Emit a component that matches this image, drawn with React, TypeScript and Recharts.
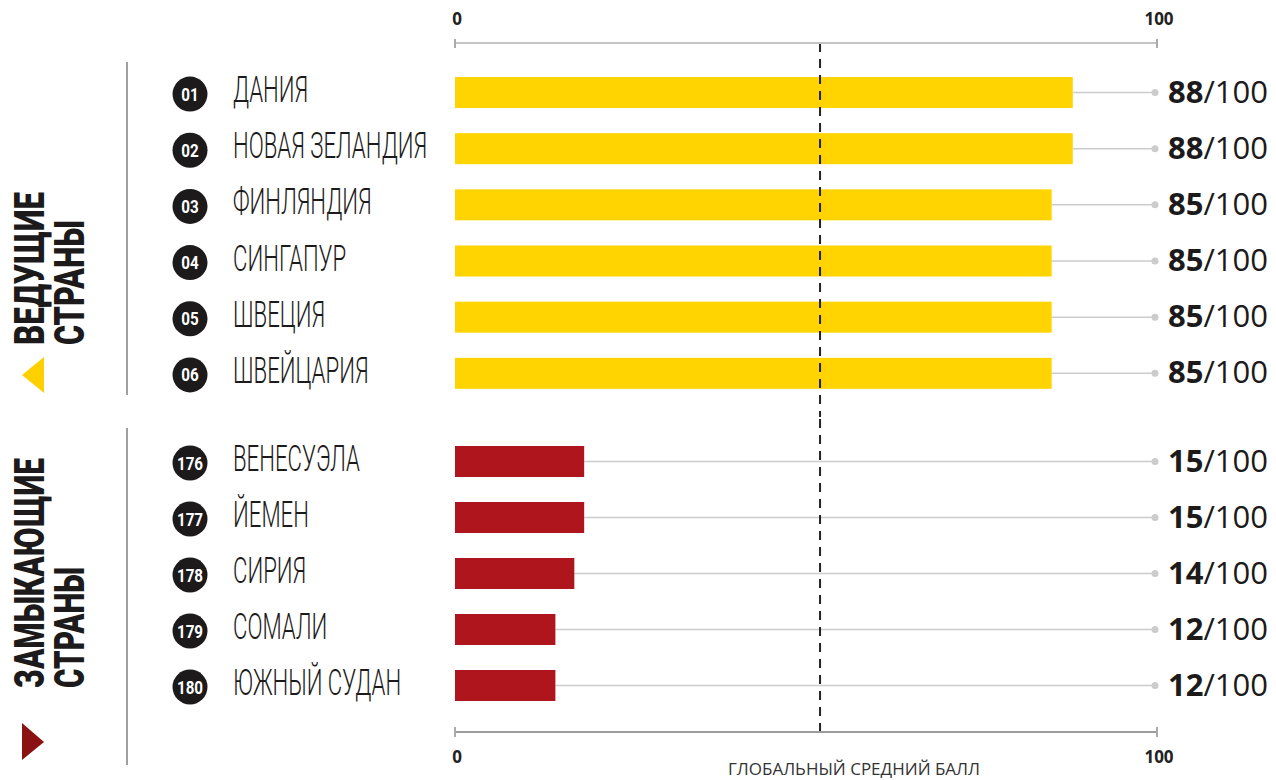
import { BarChart, Bar, XAxis, YAxis, ReferenceLine, LabelList } from 'recharts'

const leadNames = ['ДАНИЯ', 'НОВАЯ ЗЕЛАНДИЯ', 'ФИНЛЯНДИЯ', 'СИНГАПУР', 'ШВЕЦИЯ', 'ШВЕЙЦАРИЯ']
const leadRanks = ['01', '02', '03', '04', '05', '06']
const leadScores = [88, 88, 85, 85, 85, 85]

const lagNames = ['ВЕНЕСУЭЛА', 'ЙЕМЕН', 'СИРИЯ', 'СОМАЛИ', 'ЮЖНЫЙ СУДАН']
const lagRanks = ['176', '177', '178', '179', '180']
const lagScores = [15, 15, 14, 12, 12]
// bar lengths as drawn in the picture (they run longer than the printed score)
const lagBarLengths = [18.4, 18.4, 17, 14.3, 14.3]

const globalAverage = 52
const axisTicks = [0, 100]

const YELLOW = '#FFD400'
const RED = '#AF151D'
const INK = '#1c1a1a'
const LEADER = '#cccccc'
const PLOT_LEFT = 455
const PLOT_RIGHT = 1157
const CHART_W = 1276

type Row = { name: string; rank: string; score: number; bar: number }

const leadRows: Row[] = leadNames.map((name, i) => ({
  name,
  rank: leadRanks[i],
  score: leadScores[i],
  bar: leadScores[i],
}))

const lagRows: Row[] = lagNames.map((name, i) => ({
  name,
  rank: lagRanks[i],
  score: lagScores[i],
  bar: lagBarLengths[i],
}))

function BarWithLeader(props: any) {
  const { x, y, width, height, fill } = props
  const cy = y + height / 2
  return (
    <g>
      <line x1={x + width} x2={PLOT_RIGHT - 2} y1={cy} y2={cy} stroke={LEADER} strokeWidth={1.5} />
      <circle cx={PLOT_RIGHT - 2} cy={cy} r={3.5} fill={LEADER} />
      <rect x={x} y={y} width={width} height={height} fill={fill} />
    </g>
  )
}

function makeCountryTick(rows: Row[]) {
  return function CountryTick(props: any) {
    const { y, payload } = props
    const idx = props.index ?? payload.index
    const row = rows[idx]
    return (
      <g>
        <circle cx={190} cy={y + 2} r={17.5} fill={INK} />
        <text
          transform={`translate(190 ${y + 8.5}) scale(0.8 1)`}
          textAnchor='middle'
          fill='#fff'
          fontFamily='Roboto'
          fontWeight={700}
          fontSize={19}
        >
          {row ? row.rank : ''}
        </text>
        <text
          transform={`translate(233 ${y + 10}) scale(0.6 1)`}
          fill={INK}
          fontFamily='Roboto'
          fontWeight={300}
          fontSize={37}
        >
          {payload.value}
        </text>
      </g>
    )
  }
}

function makeAxisTick(lineY1: number, lineY2: number, labelY: number) {
  return function AxisTick(props: any) {
    const { x, payload } = props
    return (
      <g>
        <line x1={x} x2={x} y1={lineY1} y2={lineY2} stroke='#aaaaaa' strokeWidth={2} />
        <text x={x + 2} y={labelY} textAnchor='middle' fill='#222' fontFamily='Open Sans' fontWeight={700} fontSize={17}>
          {payload.value}
        </text>
      </g>
    )
  }
}

function ScoreLabel(props: any) {
  const { y, height, value } = props
  return (
    <text x={1168} y={y + height / 2 + 10} fill={INK} fontFamily='Open Sans' fontSize={31}>
      <tspan fontWeight={700}>{value}</tspan>
      <tspan fontWeight={400}>/100</tspan>
    </text>
  )
}

type SectionProps = {
  rows: Row[]
  color: string
  height: number
  top: number
  orientation: 'top' | 'bottom'
  axisHeight: number
  padTop: number
  padBottom: number
  axisColor: string
  tick: (p: any) => any
}

function Section({ rows, color, height, top, orientation, axisHeight, padTop, padBottom, axisColor, tick }: SectionProps) {
  return (
    <div style={{ position: 'absolute', left: 0, top }}>
      <BarChart
        layout='vertical'
        width={CHART_W}
        height={height}
        data={rows}
        margin={{ top: 0, right: CHART_W - PLOT_RIGHT, bottom: 0, left: 0 }}
      >
        <XAxis
          type='number'
          domain={[0, 100]}
          ticks={axisTicks}
          orientation={orientation}
          height={axisHeight}
          axisLine={{ stroke: axisColor, strokeWidth: 2 }}
          tickLine={false}
          tick={tick}
          interval={0}
        />
        <YAxis
          type='category'
          dataKey='name'
          width={PLOT_LEFT}
          axisLine={false}
          tickLine={false}
          padding={{ top: padTop, bottom: padBottom }}
          tick={makeCountryTick(rows)}
          interval={0}
        />
        <ReferenceLine x={globalAverage} stroke='#222' strokeWidth={2} strokeDasharray='9 7' />
        <Bar dataKey='bar' fill={color} barSize={31} shape={BarWithLeader} isAnimationActive={false}>
          <LabelList dataKey='score' content={ScoreLabel} />
        </Bar>
      </BarChart>
    </div>
  )
}

function SideLabel({ line1, line2, start, len1, len2 }: { line1: string; line2: string; start: number; len1: number; len2: number }) {
  return (
    <g fontFamily='Roboto' fontWeight={900} fontSize={42} fill={INK}>
      <text
        transform={`translate(44 ${start}) rotate(-90)`}
        textLength={len1}
        lengthAdjust='spacingAndGlyphs'
      >
        {line1}
      </text>
      <text
        transform={`translate(84 ${start}) rotate(-90)`}
        textLength={len2}
        lengthAdjust='spacingAndGlyphs'
      >
        {line2}
      </text>
    </g>
  )
}

export default function App() {
  return (
    <div style={{ position: 'absolute', left: 0, top: 0, width: CHART_W, height: 780, background: '#fff', fontFamily: 'Open Sans' }}>
      <Section
        rows={leadRows}
        color={YELLOW}
        height={417}
        top={0}
        orientation='top'
        axisHeight={43}
        padTop={21}
        padBottom={16}
        axisColor='#c4c4c4'
        tick={makeAxisTick(39, 48, 25)}
      />
      <Section
        rows={lagRows}
        color={RED}
        height={363}
        top={417}
        orientation='bottom'
        axisHeight={48}
        padTop={16}
        padBottom={19}
        axisColor='#9c9c9c'
        tick={makeAxisTick(310, 320, 346)}
      />
      <svg width={CHART_W} height={780} style={{ position: 'absolute', left: 0, top: 0, pointerEvents: 'none' }}>
        <line x1={127} x2={127} y1={62} y2={395} stroke='#a0a0a0' strokeWidth={2} />
        <line x1={127} x2={127} y1={428} y2={765} stroke='#a0a0a0' strokeWidth={2} />
        <SideLabel line1='ВЕДУЩИЕ' line2='СТРАНЫ' start={345} len1={153} len2={125} />
        <SideLabel line1='ЗАМЫКАЮЩИЕ' line2='СТРАНЫ' start={688} len1={230} len2={121} />
        <polygon points='22,375 44,357 44,393' fill='#FFD000' />
        <polygon points='44,742 22,723 22,760' fill='#8B1212' />
        <text x={728} y={775} fill='#333' fontFamily='Open Sans' fontSize={17}>
          ГЛОБАЛЬНЫЙ СРЕДНИЙ БАЛЛ
        </text>
      </svg>
    </div>
  )
}
